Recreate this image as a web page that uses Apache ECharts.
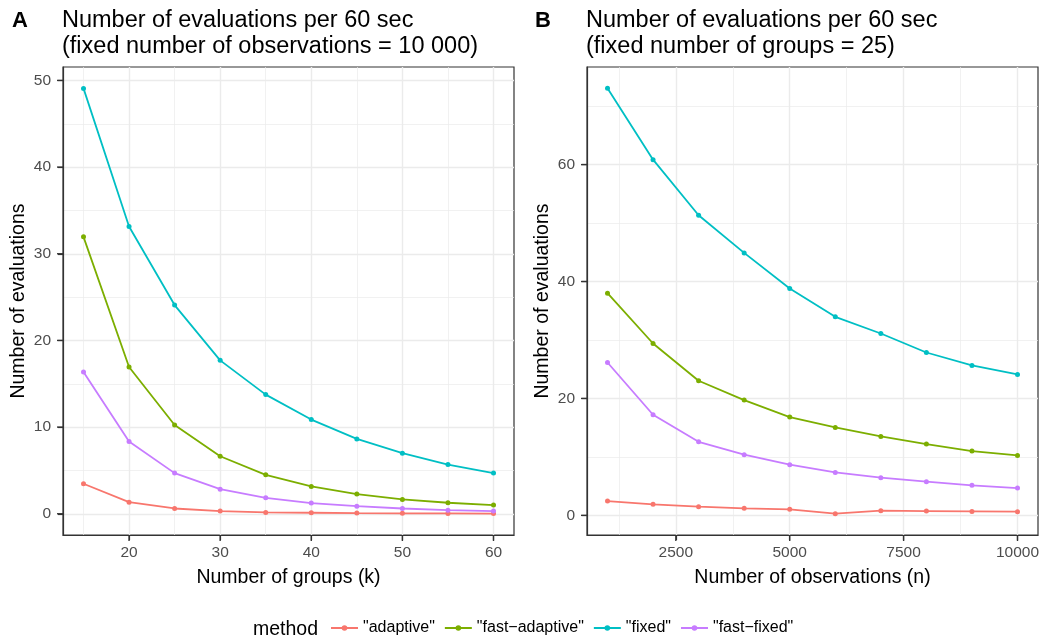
<!DOCTYPE html>
<html>
<head>
<meta charset="utf-8">
<script src="https://cdn.jsdelivr.net/npm/echarts@6/dist/echarts.min.js"></script>
<style>
html,body{margin:0;padding:0;background:#fff;}
#chart{width:1043px;height:641px;}
</style>
</head>
<body>
<div id="chart"></div>
<script>
// ---- Data ----
const methods = ['"adaptive"', '"fast\u2212adaptive"', '"fixed"', '"fast\u2212fixed"'];

// Panel A: fixed number of observations = 10 000
const groupsK = [15, 20, 25, 30, 35, 40, 45, 50, 55, 60];
const aAdaptive     = [3.46, 1.34, 0.61, 0.31, 0.15, 0.12, 0.08, 0.05, 0.04, 0.02];
const aFastAdaptive = [31.95, 16.94, 10.25, 6.64, 4.49, 3.15, 2.27, 1.65, 1.27, 1.00];
const aFixed        = [49.08, 33.14, 24.08, 17.70, 13.75, 10.87, 8.64, 6.99, 5.68, 4.69];
const aFastFixed    = [16.36, 8.33, 4.69, 2.84, 1.84, 1.23, 0.88, 0.61, 0.42, 0.31];

// Panel B: fixed number of groups = 25
const obsN = [1000, 2000, 3000, 4000, 5000, 6000, 7000, 8000, 9000, 10000];
const bAdaptive     = [2.45, 1.88, 1.48, 1.20, 1.03, 0.28, 0.80, 0.74, 0.68, 0.63];
const bFastAdaptive = [38.0, 29.4, 23.02, 19.72, 16.81, 15.04, 13.5, 12.19, 11.0, 10.26];
const bFixed        = [73.05, 60.85, 51.34, 44.9, 38.8, 33.96, 31.11, 27.86, 25.64, 24.10];
const bFastFixed    = [26.15, 17.21, 12.59, 10.37, 8.66, 7.35, 6.44, 5.76, 5.13, 4.67];

// Tick labels
const xTicksA = [20, 30, 40, 50, 60];
const xMinorA = [15, 25, 35, 45, 55];
const yTicksA = [0, 10, 20, 30, 40, 50];
const yMinorA = [5, 15, 25, 35, 45];
const xTicksB = [2500, 5000, 7500, 10000];
const xMinorB = [1250, 3750, 6250, 8750];
const yTicksB = [0, 20, 40, 60];
const yMinorB = [10, 30, 50, 70];

// Axis ranges (ggplot-style 5% expansion)
const xRangeA = [12.75, 62.25];
const yRangeA = [-2.45, 51.55];
const xRangeB = [550, 10450];
const yRangeB = [-3.36, 76.7];

// ---- Styles ----
const colors = ['#F8766D', '#7CAE00', '#00BFC4', '#C77CFF'];
const FONT = '"Liberation Sans", Arial, Helvetica, sans-serif';
const tickColor = '#333333';
const labelColor = '#4D4D4D';
const gridColor = '#EBEBEB';

function zip(xs, ys) { return xs.map((x, i) => [x, ys[i]]); }

function majorAxis(gridIndex, range, ticks, name, isX, nameGap) {
  return {
    gridIndex, type: 'value', min: range[0], max: range[1],
    position: isX ? 'bottom' : 'left',
    axisLine: { show: true, onZero: false, lineStyle: { color: tickColor, width: 1.2 } },
    axisTick: { show: true, inside: false, length: 5, customValues: ticks, lineStyle: { color: tickColor, width: 1.2 } },
    axisLabel: { show: true, customValues: ticks, color: labelColor, fontSize: 15.5, fontFamily: FONT,
                 margin: isX ? 10 : 12, formatter: v => String(v) },
    splitLine: { show: true, lineStyle: { color: gridColor, width: 1.4 } },
    name, nameLocation: 'middle', nameGap,
    nameTextStyle: { color: '#000', fontSize: 19.5, fontFamily: FONT }
  };
}
function minorAxis(gridIndex, range, ticks, isX) {
  return {
    gridIndex, type: 'value', min: range[0], max: range[1],
    position: isX ? 'top' : 'right',
    axisLine: { show: false, onZero: false },
    axisTick: { show: false, customValues: ticks },
    axisLabel: { show: false, customValues: ticks },
    splitLine: { show: true, lineStyle: { color: gridColor, width: 0.7 } }
  };
}

const panelA = [aAdaptive, aFastAdaptive, aFixed, aFastFixed];
const panelB = [bAdaptive, bFastAdaptive, bFixed, bFastFixed];

const series = [];
panelA.forEach((vals, i) => series.push({
  name: methods[i], type: 'line', xAxisIndex: 0, yAxisIndex: 0,
  data: zip(groupsK, vals), symbol: 'circle', symbolSize: 5,
  lineStyle: { width: 1.8, color: colors[i] }, itemStyle: { color: colors[i] },
  z: 3 + i, animation: false
}));
panelB.forEach((vals, i) => series.push({
  name: methods[i], type: 'line', xAxisIndex: 2, yAxisIndex: 2,
  data: zip(obsN, vals), symbol: 'circle', symbolSize: 5,
  lineStyle: { width: 1.8, color: colors[i] }, itemStyle: { color: colors[i] },
  z: 3 + i, animation: false
}));

const titleStyle = { fontSize: 23.5, lineHeight: 26, fontWeight: 'normal', color: '#000', fontFamily: FONT };
const tagStyle = { fontSize: 22, lineHeight: 26, fontWeight: 'bold', color: '#000', fontFamily: FONT };

const chart = echarts.init(document.getElementById('chart'), null, { renderer: 'canvas' });

const gridsLayout = [
  { left: 63, top: 67, width: 451, height: 468 },
  { left: 587, top: 67, width: 451, height: 468 }
];

const baseOption = {
  backgroundColor: '#ffffff',
  animation: false,
  color: colors,
  title: [
    { text: 'Number of evaluations per 60 sec\n(fixed number of observations = 10 000)', left: 62, top: 8, padding: 0, textStyle: titleStyle },
    { text: 'Number of evaluations per 60 sec\n(fixed number of groups = 25)', left: 586, top: 8, padding: 0, textStyle: titleStyle },
    { text: 'A', left: 12, top: 8, padding: 0, textStyle: tagStyle },
    { text: 'B', left: 535, top: 8, padding: 0, textStyle: tagStyle }
  ],
  grid: gridsLayout.map(g => Object.assign({ show: true, borderColor: '#333333', borderWidth: 1.2, backgroundColor: 'transparent', containLabel: false }, g)),
  xAxis: [
    majorAxis(0, xRangeA, xTicksA, 'Number of groups (k)', true, 33),
    minorAxis(0, xRangeA, xMinorA, true),
    majorAxis(1, xRangeB, xTicksB, 'Number of observations (n)', true, 33),
    minorAxis(1, xRangeB, xMinorB, true)
  ],
  yAxis: [
    majorAxis(0, yRangeA, yTicksA, 'Number of evaluations', false, 34),
    minorAxis(0, yRangeA, yMinorA, false),
    majorAxis(1, yRangeB, yTicksB, 'Number of evaluations', false, 34),
    minorAxis(1, yRangeB, yMinorB, false)
  ],
  legend: {
    data: methods,
    left: 330, top: 620, padding: 0,
    itemWidth: 27, itemHeight: 7, itemGap: 9,
    textStyle: { fontSize: 16, color: '#000', fontFamily: FONT }
  },
  graphic: {
    elements: [
      { id: 'legendTitle', type: 'text', x: 253, y: 630, style: { text: 'method', fontSize: 19.5, fill: '#000', fontFamily: FONT, verticalAlign: 'middle', textVerticalAlign: 'middle' } }
    ]
  },
  series
};
chart.setOption(baseOption);

// Outward tick marks as small filled rects, positioned via the library's conversion
const TICK_LEN = 6;
function toPx(seriesIndex, gridIdx, xr, yr, pt) {
  let p = null;
  try { p = chart.convertToPixel({ seriesIndex }, pt); } catch (e) { p = null; }
  if (!p || !isFinite(p[0]) || !isFinite(p[1])) {
    const g = gridsLayout[gridIdx];
    p = [g.left + (pt[0] - xr[0]) / (xr[1] - xr[0]) * g.width,
         g.top + g.height - (pt[1] - yr[0]) / (yr[1] - yr[0]) * g.height];
  }
  return p;
}
function buildTicks() {
  const els = [];
  const panels = [
    { s: 0, g: 0, xt: xTicksA, yt: yTicksA, xr: xRangeA, yr: yRangeA },
    { s: 4, g: 1, xt: xTicksB, yt: yTicksB, xr: xRangeB, yr: yRangeB }
  ];
  panels.forEach((P, pi) => {
    P.xt.forEach((v, i) => {
      const p = toPx(P.s, P.g, P.xr, P.yr, [v, P.yr[0]]);
      els.push({ id: 'tx' + pi + '_' + i, type: 'rect', silent: true, z: 100,
        shape: { x: p[0] - 0.7, y: p[1], width: 1.4, height: TICK_LEN },
        style: { fill: tickColor } });
    });
    P.yt.forEach((v, i) => {
      const p = toPx(P.s, P.g, P.xr, P.yr, [P.xr[0], v]);
      els.push({ id: 'ty' + pi + '_' + i, type: 'rect', silent: true, z: 100,
        shape: { x: p[0] - TICK_LEN, y: p[1] - 0.7, width: TICK_LEN, height: 1.4 },
        style: { fill: tickColor } });
    });
  });
  return els;
}
chart.setOption({ graphic: { elements: buildTicks() } });
</script>
</body>
</html>
